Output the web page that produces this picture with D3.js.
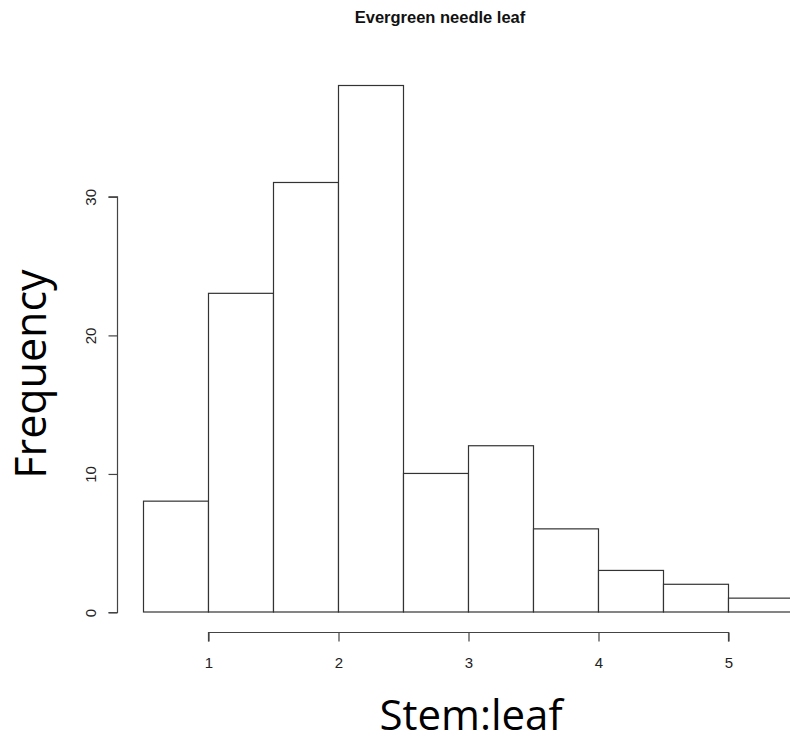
<!DOCTYPE html>
<html>
<head>
<meta charset="utf-8">
<script src="https://cdn.jsdelivr.net/npm/d3@7"></script>
<style>
  html, body { margin: 0; padding: 0; background: #fff; }
  svg { display: block; }
</style>
</head>
<body>
<svg id="chart" width="790" height="744"></svg>
<script>
// Histogram bins (lower/upper edges) and counts
const binStarts = [0.5, 1.0, 1.5, 2.0, 2.5, 3.0, 3.5, 4.0, 4.5, 5.0];
const binEnds   = [1.0, 1.5, 2.0, 2.5, 3.0, 3.5, 4.0, 4.5, 5.0, 5.5];
const counts    = [8, 23, 31, 38, 10, 12, 6, 3, 2, 1];
const xTicks = [1, 2, 3, 4, 5];
const yTicks = [0, 10, 20, 30];

const svg = d3.select("#chart");

const x = d3.scaleLinear().domain([0.5, 5.5]).range([143, 793]);
const y = d3.scaleLinear().domain([0, 38]).range([612, 85.5]);

// bars
svg.append("g")
  .selectAll("rect")
  .data(counts)
  .join("rect")
  .attr("x", (d, i) => x(binStarts[i]) + 0.5)
  .attr("y", d => y(d))
  .attr("width", (d, i) => x(binEnds[i]) - x(binStarts[i]))
  .attr("height", d => y(0) - y(d))
  .attr("fill", "#fff")
  .attr("stroke", "#333")
  .attr("stroke-width", 1.2);

// x axis (detached below the bars)
const xAxis = d3.axisBottom(x).tickValues(xTicks).tickSize(9).tickPadding(16)
  .tickFormat(d3.format("d"));
const gx = svg.append("g").attr("transform", "translate(0.5,632.5)").call(xAxis);
gx.select(".domain").attr("d", `M${x(1)},9V0H${x(5)}V9`);

// y axis (detached left of the bars)
const yAxis = d3.axisLeft(y).tickValues(yTicks).tickSize(9).tickPadding(0)
  .tickFormat(d3.format("d"));
const gy = svg.append("g").attr("transform", "translate(117.5,0.5)").call(yAxis);
gy.select(".domain").attr("d", `M-9,${y(0)}H0V${y(30)}H-9`);
gy.selectAll(".tick text")
  .attr("transform", "rotate(-90)")
  .attr("x", 0).attr("y", -22)
  .attr("text-anchor", "middle")
  .attr("dy", "0");

[gx, gy].forEach(g => {
  g.attr("font-size", null).attr("font-family", null);
  g.selectAll(".domain, .tick line").attr("stroke", "#444").attr("stroke-width", 1.2);
  g.selectAll("text")
    .style("font-family", "'Liberation Sans', Arial, sans-serif")
    .style("font-size", "15px")
    .attr("fill", "#222");
});

// title
svg.append("text")
  .attr("x", 440).attr("y", 23)
  .attr("text-anchor", "middle")
  .style("font-family", "'Liberation Sans', Arial, sans-serif")
  .style("font-weight", "bold")
  .style("font-size", "16.5px")
  .attr("fill", "#111")
  .text("Evergreen needle leaf");

// axis titles
svg.append("text")
  .attr("transform", "translate(46,374) rotate(-90)")
  .attr("text-anchor", "middle")
  .style("font-family", "'Open Sans', 'Noto Sans', sans-serif")
  .style("font-size", "43px")
  .attr("fill", "#000")
  .text("Frequency");

svg.append("text")
  .attr("x", 471).attr("y", 730)
  .attr("text-anchor", "middle")
  .style("font-family", "'Open Sans', 'Noto Sans', sans-serif")
  .style("font-size", "42px")
  .attr("fill", "#000")
  .text("Stem:leaf");
</script>
</body>
</html>
